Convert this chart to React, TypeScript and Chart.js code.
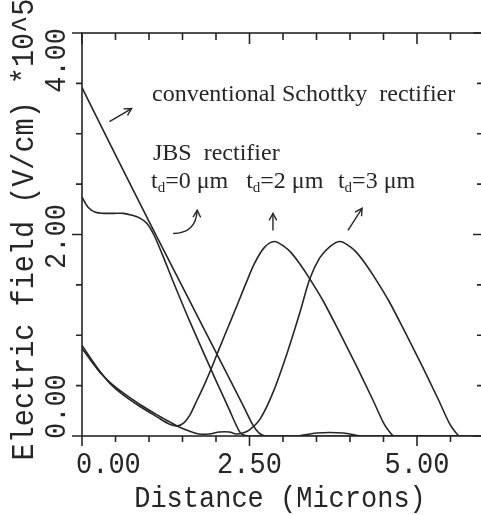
import React, { useEffect, useRef } from "react";
import { Chart, registerables } from "chart.js";

Chart.register(...registerables);

// ---- Data (Distance in microns, Electric field in 1e5 V/cm) ----
const convX = [0, 0.05, 0.5, 1.0, 1.5, 2.0, 2.4, 2.55, 2.64, 2.74, 3.0, 6.0];
const convY = [3.46, 3.39, 2.79, 2.13, 1.48, 0.83, 0.31, 0.11, 0.03, 0, 0, 0];

const td0X = [0, 0.09, 0.2, 0.32, 0.48, 0.62, 0.75, 0.87, 0.97, 1.07, 1.2, 1.35, 1.6, 2.0, 2.2, 2.3, 2.38, 2.5, 3.2, 3.5, 3.9, 4.2, 6.0];
const td0Y = [2.37, 2.27, 2.22, 2.21, 2.21, 2.21, 2.19, 2.16, 2.11, 2.0, 1.8, 1.55, 1.15, 0.55, 0.26, 0.11, 0.02, 0, 0, 0.03, 0.03, 0, 0];

const td2X = [0, 0.12, 0.27, 0.42, 0.61, 0.87, 1.12, 1.3, 1.42, 1.52, 1.62, 1.72, 1.82, 1.93, 2.05, 2.18, 2.31, 2.45, 2.58, 2.72, 2.87, 3.02, 3.12, 3.25, 3.4, 3.6, 3.85, 4.1, 4.34, 4.5, 4.58, 4.66, 5.0, 6.0];
const td2Y = [0.9, 0.78, 0.64, 0.52, 0.41, 0.29, 0.19, 0.12, 0.1, 0.13, 0.22, 0.36, 0.5, 0.67, 0.87, 1.08, 1.29, 1.52, 1.72, 1.87, 1.93, 1.88, 1.82, 1.71, 1.56, 1.34, 1.02, 0.69, 0.36, 0.13, 0.05, 0, 0, 0];

const td3X = [0, 0.12, 0.27, 0.42, 0.61, 0.87, 1.12, 1.31, 1.45, 1.6, 1.75, 1.9, 2.05, 2.2, 2.3, 2.4, 2.5, 2.66, 2.85, 3.06, 3.25, 3.4, 3.55, 3.7, 3.85, 4.0, 4.1, 4.23, 4.38, 4.58, 4.83, 5.08, 5.32, 5.48, 5.56, 5.64, 6.0];
const td3Y = [0.87, 0.76, 0.63, 0.53, 0.43, 0.31, 0.21, 0.14, 0.09, 0.05, 0.02, 0.02, 0.04, 0.04, 0.02, 0.03, 0.06, 0.17, 0.43, 0.82, 1.22, 1.56, 1.77, 1.88, 1.93, 1.88, 1.82, 1.71, 1.56, 1.34, 1.02, 0.69, 0.36, 0.13, 0.05, 0, 0];

// ---- Axes ----
const xMin = 0;
const xMax = 6;
const yMin = 0;
const yMax = 4;
const xTickValues = [0, 0.5, 1, 1.5, 2, 2.5, 3, 3.5, 4, 4.5, 5, 5.5, 6];
const xMajorValues = [0, 2.5, 5];
const xTickLabels = ["0.00", "2.50", "5.00"];
const yTickValues = [0, 0.5, 1, 1.5, 2, 2.5, 3, 3.5, 4];
const yMajorValues = [0, 2, 4];
const yTickLabels = ["0.00", "2.00", "4.00"];
const xTitle = "Distance (Microns)";
const yTitle = "Electric field (V/cm) *10^5";

// ---- Annotations (data coordinates) ----
const noteTexts = ["conventional Schottky  rectifier", "JBS  rectifier"];
const noteX = [1.045, 1.06];
const noteY = [3.325, 2.74];
const tdValues = ["0", "2", "3"];
const tdLabelX = [1.03, 2.45, 3.82];
const tdLabelY = 2.46;
// arrows: [tailX, tailY, ctrlX, ctrlY, headX, headY] (ctrl null => straight)
const arrows: Array<[number, number, number | null, number | null, number, number]> = [
  [0.41, 3.12, null, null, 0.74, 3.25],
  [1.36, 2.01, 1.7, 2.01, 1.72, 2.24],
  [2.85, 2.04, null, null, 2.85, 2.21],
  [3.97, 2.04, null, null, 4.18, 2.26],
];

const INK = "#262626";
const MONO = "Liberation Mono";
const SERIF = "Liberation Serif";
const MONO_STRETCH = 1.12;

function toPoints(xs: number[], ys: number[]) {
  return xs.map((x, i) => ({ x, y: ys[i] }));
}

function arrowHead(ctx: CanvasRenderingContext2D, fx: number, fy: number, hx: number, hy: number) {
  const ang = Math.atan2(hy - fy, hx - fx);
  const len = 8;
  const spread = 0.5;
  ctx.beginPath();
  ctx.moveTo(hx - len * Math.cos(ang - spread), hy - len * Math.sin(ang - spread));
  ctx.lineTo(hx, hy);
  ctx.lineTo(hx - len * Math.cos(ang + spread), hy - len * Math.sin(ang + spread));
  ctx.stroke();
}

function monoText(
  ctx: CanvasRenderingContext2D,
  text: string,
  x: number,
  y: number,
  align: CanvasTextAlign,
  rotate: boolean,
  size: number,
  dx = 0
) {
  ctx.save();
  ctx.font = `${size}px "${MONO}"`;
  ctx.translate(x, y);
  if (rotate) ctx.rotate(-Math.PI / 2);
  ctx.scale(1, MONO_STRETCH);
  ctx.textAlign = align;
  ctx.textBaseline = "alphabetic";
  ctx.fillText(text, dx, 0);
  ctx.restore();
}

const framePlugin = {
  id: "frameAndNotes",
  afterDraw(chart: any) {
    const { ctx, chartArea: a, scales } = chart;
    const xs = scales.x;
    const ys = scales.y;
    ctx.save();
    ctx.strokeStyle = INK;
    ctx.fillStyle = INK;
    ctx.lineWidth = 1.6;
    ctx.lineCap = "butt";
    // frame
    ctx.strokeRect(a.left, a.top, a.right - a.left, a.bottom - a.top);
    // x ticks: bottom outward, top inward
    ctx.beginPath();
    for (const v of xTickValues) {
      const px = xs.getPixelForValue(v);
      const major = xMajorValues.includes(v);
      ctx.moveTo(px, a.bottom);
      ctx.lineTo(px, a.bottom + (major ? 10 : 6));
      ctx.moveTo(px, a.top);
      ctx.lineTo(px, a.top + (major ? 11 : 7));
    }
    // y ticks: left outward, right inward
    for (const v of yTickValues) {
      const py = ys.getPixelForValue(v);
      const major = yMajorValues.includes(v);
      ctx.moveTo(a.left, py);
      ctx.lineTo(a.left - (major ? 10 : 6), py);
      ctx.moveTo(a.right, py);
      ctx.lineTo(a.right - (major ? 11 : 7), py);
    }
    ctx.stroke();

    // x tick labels
    xMajorValues.forEach((v, i) => {
      const px = xs.getPixelForValue(v);
      if (i === 0) monoText(ctx, xTickLabels[i], px - 6, a.bottom + 37, "left", false, 27);
      else monoText(ctx, xTickLabels[i], px, a.bottom + 37, "center", false, 27);
    });
    // x title
    monoText(ctx, xTitle, (a.left + a.right) / 2 - 3, a.bottom + 71, "center", false, 27);

    // y tick labels (rotated)
    yMajorValues.forEach((v, i) => {
      const py = ys.getPixelForValue(v);
      const bx = a.left - 17;
      if (i === 0) monoText(ctx, yTickLabels[i], bx, py, "left", true, 27, -3);
      else if (i === yMajorValues.length - 1) monoText(ctx, yTickLabels[i], bx, py, "right", true, 27, 5);
      else monoText(ctx, yTickLabels[i], bx, py, "center", true, 27, -2);
    });
    // y title
    monoText(ctx, yTitle, a.left - 49, (a.top + a.bottom) / 2 - 5, "center", true, 28.5);

    // annotations
    ctx.font = `24px "${SERIF}"`;
    ctx.textAlign = "left";
    ctx.textBaseline = "alphabetic";
    noteTexts.forEach((t, i) => {
      ctx.fillText(t, xs.getPixelForValue(noteX[i]), ys.getPixelForValue(noteY[i]));
    });
    const by = ys.getPixelForValue(tdLabelY);
    tdValues.forEach((val, i) => {
      let px = xs.getPixelForValue(tdLabelX[i]);
      ctx.font = `24px "${SERIF}"`;
      ctx.fillText("t", px, by);
      px += ctx.measureText("t").width;
      ctx.font = `15px "${SERIF}"`;
      ctx.fillText("d", px, by + 4);
      px += ctx.measureText("d").width;
      ctx.font = `24px "${SERIF}"`;
      ctx.fillText("=" + val + " \u03bcm", px, by);
    });

    // arrows
    ctx.lineWidth = 1.4;
    for (const [tx, ty, cx, cy, hx, hy] of arrows) {
      const t = { x: xs.getPixelForValue(tx), y: ys.getPixelForValue(ty) };
      const h = { x: xs.getPixelForValue(hx), y: ys.getPixelForValue(hy) };
      ctx.beginPath();
      ctx.moveTo(t.x, t.y);
      if (cx !== null && cy !== null) {
        const c = { x: xs.getPixelForValue(cx), y: ys.getPixelForValue(cy) };
        ctx.quadraticCurveTo(c.x, c.y, h.x, h.y);
        ctx.stroke();
        arrowHead(ctx, c.x, c.y, h.x, h.y);
      } else {
        ctx.lineTo(h.x, h.y);
        ctx.stroke();
        arrowHead(ctx, t.x, t.y, h.x, h.y);
      }
    }
    ctx.restore();
  },
};

export default function App() {
  const ref = useRef<HTMLCanvasElement | null>(null);
  useEffect(() => {
    const canvas = ref.current;
    if (!canvas) return;
    const lineStyle = {
      borderColor: INK,
      borderWidth: 1.6,
      pointRadius: 0,
      fill: false,
      tension: 0.3,
    };
    const chart = new Chart(canvas, {
      type: "line",
      data: {
        datasets: [
          { label: "conventional Schottky rectifier", data: toPoints(convX, convY), ...lineStyle },
          { label: "JBS td=0 μm", data: toPoints(td0X, td0Y), ...lineStyle },
          { label: "JBS td=2 μm", data: toPoints(td2X, td2Y), ...lineStyle },
          { label: "JBS td=3 μm", data: toPoints(td3X, td3Y), ...lineStyle },
        ],
      },
      options: {
        responsive: false,
        animation: false,
        layout: { padding: { left: 82, top: 33, right: 6, bottom: 79 } },
        plugins: { legend: { display: false }, tooltip: { enabled: false } },
        scales: {
          x: { type: "linear", min: xMin, max: xMax, display: false },
          y: { type: "linear", min: yMin, max: yMax, display: false },
        },
      },
      plugins: [framePlugin],
    });
    return () => chart.destroy();
  }, []);
  return (
    <div
      style={{
        position: "fixed",
        left: 0,
        top: 0,
        width: 481,
        height: 515,
        overflow: "hidden",
        background: "#fff",
      }}
    >
      <canvas ref={ref} width={490} height={515} style={{ display: "block", width: 490, height: 515 }} />
    </div>
  );
}
